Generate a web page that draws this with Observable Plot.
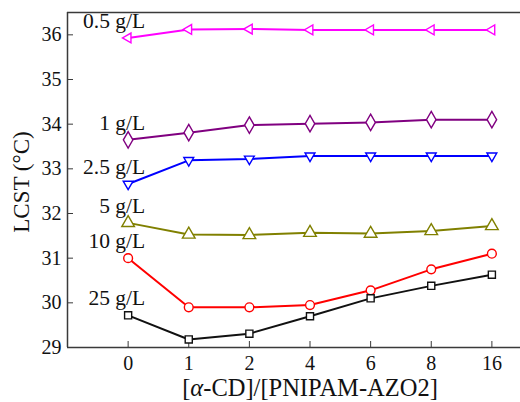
<!DOCTYPE html>
<html>
<head>
<meta charset="utf-8">
<script src="https://cdn.jsdelivr.net/npm/d3@7"></script>
<script src="https://cdn.jsdelivr.net/npm/@observablehq/plot@0.6"></script>
<style>
  html, body { margin: 0; padding: 0; background: #fff; }
  #chart svg { display: block; }
</style>
</head>
<body>
<div id="chart"></div>
<script>
// Molar ratio [α-CD]/[PNIPAM-AZO2] (categorical, evenly spaced)
const ratios = ["0", "1", "2", "4", "6", "8", "16"];

// Polymer concentration of each series
const concentrations = ["0.5 g/L", "1 g/L", "2.5 g/L", "5 g/L", "10 g/L", "25 g/L"];

// LCST (°C) for each concentration, one value per ratio
const lcst05 = [35.93, 36.12, 36.13, 36.11, 36.11, 36.11, 36.11];
const lcst1  = [33.65, 33.81, 33.98, 34.01, 34.04, 34.10, 34.10];
const lcst25 = [32.66, 33.19, 33.22, 33.29, 33.29, 33.29, 33.29];
const lcst5  = [31.79, 31.53, 31.52, 31.57, 31.55, 31.61, 31.72];
const lcst10 = [31.00, 29.90, 29.90, 29.95, 30.28, 30.75, 31.10];
const lcst25gL = [29.72, 29.18, 29.31, 29.70, 30.10, 30.38, 30.63];

const yTicks = [29, 30, 31, 32, 33, 34, 35, 36];

// Open markers not in the built-in set: triangles pointing down and left
const triangleDown = {
  draw(ctx, size) {
    const s = Math.sqrt(size) * 0.6824, t = s / 2, u = s * Math.sqrt(3) / 2;
    ctx.moveTo(0, s); ctx.lineTo(u, -t); ctx.lineTo(-u, -t); ctx.closePath();
  }
};
const triangleLeft = {
  draw(ctx, size) {
    const s = Math.sqrt(size) * 0.6824, t = s / 2, u = s * Math.sqrt(3) / 2;
    ctx.moveTo(-s, 0); ctx.lineTo(t, u); ctx.lineTo(t, -u); ctx.closePath();
  }
};

const seriesValues = [lcst05, lcst1, lcst25, lcst5, lcst10, lcst25gL];
const seriesStyle = [
  {color: "#ff00ff", symbol: triangleLeft, r: 4.7},
  {color: "#800080", symbol: "diamond", r: 5},
  {color: "#0000ff", symbol: triangleDown, r: 4.7},
  {color: "#808000", symbol: "triangle", r: 4.7},
  {color: "#ff0000", symbol: "circle", r: 4.4},
  {color: "#111111", symbol: "square", r: 4}
];

const rows = concentrations.map((name, k) =>
  ratios.map((ratio, i) => ({name, ratio, i, lcst: seriesValues[k][i]}))
);

const xDomain = [-1, ratios.length];
const yDomain = [29, 36.5];
const axisColor = "#3a3a3a";

const marks = [];

// frame: left, top and bottom lines
marks.push(Plot.ruleX([xDomain[0]], {stroke: axisColor, strokeWidth: 1.5}));
marks.push(Plot.ruleY([yDomain[0], yDomain[1]], {stroke: axisColor, strokeWidth: 1.5}));

// axes with inward ticks
marks.push(Plot.axisY({
  ticks: yTicks, tickSize: -6, tickPadding: 12, stroke: axisColor,
  fontSize: 20, fill: "#111", label: null
}));
marks.push(Plot.axisX({
  ticks: ratios.map((_, i) => i), tickFormat: (i) => ratios[i],
  tickSize: -6, tickPadding: 14, stroke: axisColor,
  fontSize: 20, fill: "#111", label: null
}));

// series lines, then open markers on top
rows.forEach((data, k) => {
  marks.push(Plot.line(data, {x: "i", y: "lcst", stroke: seriesStyle[k].color, strokeWidth: 2}));
});
rows.forEach((data, k) => {
  const st = seriesStyle[k];
  marks.push(Plot.dot(data, {
    x: "i", y: "lcst", symbol: () => st.symbol, r: st.r,
    stroke: st.color, strokeWidth: 1.4, fill: "white"
  }));
});

// concentration labels beside the first point of each series
marks.push(Plot.text(rows.map((d) => d[0]), {
  x: "i", y: "lcst", text: "name", textAnchor: "end", lineAnchor: "middle",
  dx: 17, dy: -17, fontSize: 21.5, fill: "#111"
}));

// axis titles
marks.push(Plot.text(["LCST (°C)"], {
  frameAnchor: "left", textAnchor: "middle", lineAnchor: "middle",
  rotate: -90, dx: -46, dy: 2, fontSize: 23, fill: "#111"
}));
marks.push(Plot.text(["[α-CD]/[PNIPAM-AZO2]"], {
  x: (xDomain[0] + xDomain[1]) / 2, frameAnchor: "bottom", lineAnchor: "middle",
  dy: 41, fontSize: 24.5, fill: "#111"
}));

const chart = Plot.plot({
  width: 520,
  height: 402,
  marginLeft: 67,
  marginRight: 0,
  marginTop: 12,
  marginBottom: 55,
  style: {fontFamily: "'Liberation Serif', 'Times New Roman', serif", background: "white", overflow: "hidden"},
  x: {type: "linear", domain: xDomain, range: [67, 552]},
  y: {type: "linear", domain: yDomain, range: [347, 12]},
  symbol: {type: "identity"},
  marks
});

// italic alpha in the x-axis title
d3.select(chart).selectAll("text").each(function () {
  const el = d3.select(this);
  if (el.text() === "[α-CD]/[PNIPAM-AZO2]") {
    el.text(null);
    el.append("tspan").text("[");
    el.append("tspan").attr("font-style", "italic").text("α");
    el.append("tspan").text("-CD]/[PNIPAM-AZO2]");
  }
});

document.getElementById("chart").append(chart);
</script>
</body>
</html>
